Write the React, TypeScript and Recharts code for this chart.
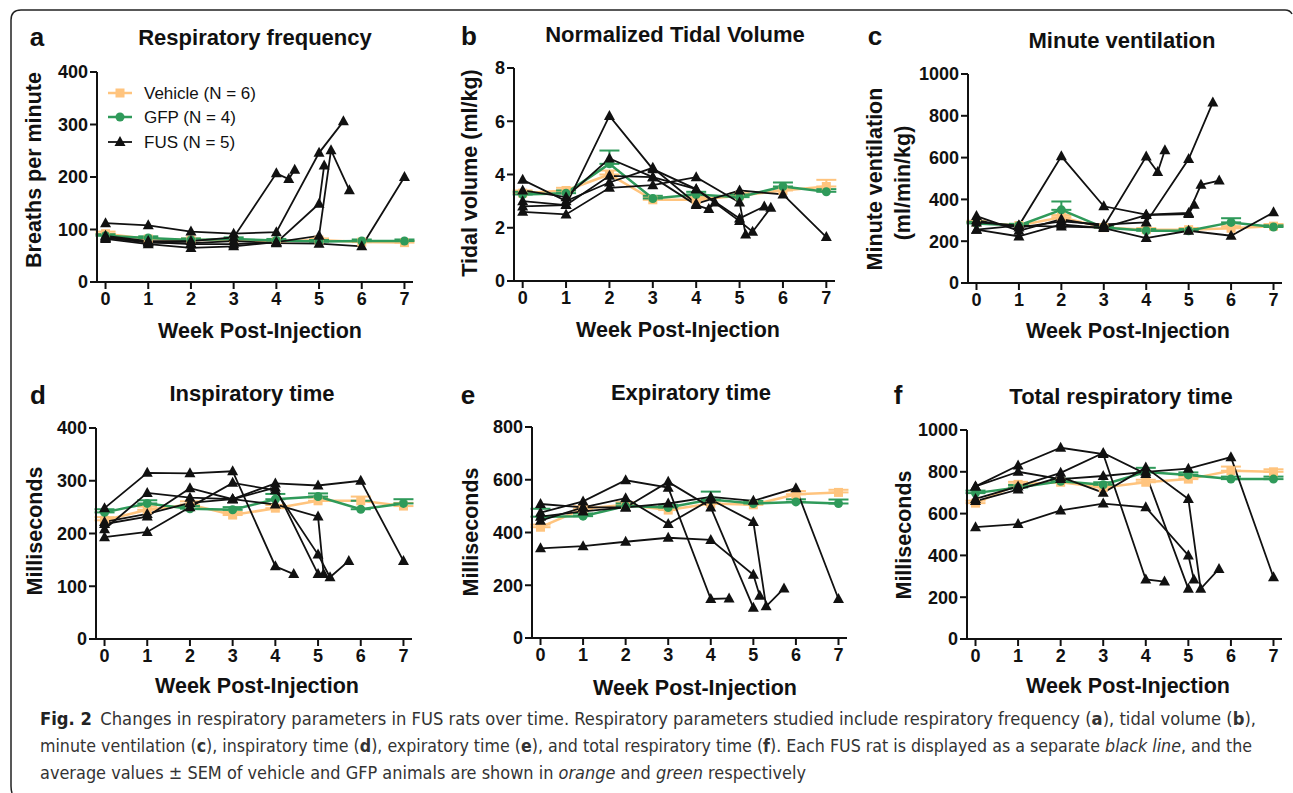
import React from "react";
import { LineChart, Line, XAxis, YAxis, ErrorBar } from "recharts";

const FONT = "'Liberation Sans', Arial, Helvetica, sans-serif";
const NARROW = "'Liberation Sans Narrow', 'Arial Narrow', 'DejaVu Sans Condensed', sans-serif";
const VEH = "#FFC47E";
const GFP = "#2F9A5A";
const FUS = "#111111";

type Pt = [number, number];

const weeks = [0, 1, 2, 3, 4, 5, 6, 7];

// a - respiratory frequency (breaths/min)
const freqTicks = [0, 100, 200, 300, 400];
const freqVehicle = [92, 82, 80, 80, 77, 80, 76, 75];
const freqVehicleSem = [4, 3, 3, 3, 3, 3, 3, 3];
const freqGfp = [88, 84, 80, 82, 79, 77, 78, 78];
const freqGfpSem = [3, 3, 3, 3, 3, 3, 3, 3];
const freqFus: Pt[][] = [
  [[0, 112], [1, 108], [2, 96], [3, 92], [4, 95], [5, 246], [5.57, 306]],
  [[0, 88], [1, 78], [2, 78], [3, 85], [4, 207], [4.29, 196], [4.43, 214]],
  [[0, 86], [1, 76], [2, 72], [3, 72], [4, 75], [5, 149], [5.12, 222]],
  [[0, 82], [1, 72], [2, 65], [3, 68], [4, 76], [5, 88], [5.28, 251], [5.71, 175]],
  [[0, 84], [1, 75], [2, 74], [3, 78], [4, 74], [5, 73], [6, 68], [7, 200]],
];

// b - normalized tidal volume (ml/kg)
const tidalTicks = [0, 2, 4, 6, 8];
const tidalVehicle = [3.3, 3.4, 4.0, 3.05, 3.05, 3.2, 3.4, 3.55];
const tidalVehicleSem = [0.1, 0.1, 0.15, 0.1, 0.1, 0.1, 0.1, 0.25];
const tidalGfp = [3.25, 3.3, 4.4, 3.1, 3.25, 3.15, 3.55, 3.35];
const tidalGfpSem = [0.1, 0.1, 0.5, 0.1, 0.1, 0.1, 0.15, 0.1];
const tidalFus: Pt[][] = [
  [[0, 3.0], [1, 2.85], [2, 6.2], [3, 4.2], [4, 3.45], [5, 2.35], [5.57, 2.8]],
  [[0, 3.4], [1, 3.15], [2, 4.6], [3, 3.9], [4, 2.85], [4.29, 2.7], [4.43, 2.95]],
  [[0, 2.6], [1, 2.5], [2, 3.5], [3, 3.6], [4, 3.9], [5, 2.95], [5.14, 1.75]],
  [[0, 2.8], [1, 2.85], [2, 3.95], [3, 3.9], [4, 3.45], [5, 2.25], [5.3, 1.85], [5.72, 2.75]],
  [[0, 3.8], [1, 3.0], [2, 3.7], [3, 4.25], [4, 2.9], [5, 3.4], [6, 3.25], [7, 1.65]],
];

// c - minute ventilation (ml/min/kg)
const minuteTicks = [0, 200, 400, 600, 800, 1000];
const minuteVehicle = [290, 275, 315, 265, 255, 255, 262, 272];
const minuteVehicleSem = [8, 8, 10, 8, 8, 8, 10, 10];
const minuteGfp = [285, 275, 350, 265, 250, 250, 290, 268];
const minuteGfpSem = [8, 8, 40, 8, 8, 8, 20, 8];
const minuteFus: Pt[][] = [
  [[0, 300], [1, 265], [2, 295], [3, 280], [4, 290], [5, 593], [5.57, 864]],
  [[0, 320], [1, 250], [2, 305], [3, 270], [4, 605], [4.27, 531], [4.44, 635]],
  [[0, 290], [1, 275], [2, 270], [3, 265], [4, 325], [5, 330], [5.13, 375]],
  [[0, 255], [1, 275], [2, 606], [3, 367], [4, 327], [5, 335], [5.29, 470], [5.72, 490]],
  [[0, 255], [1, 223], [2, 280], [3, 263], [4, 215], [5, 250], [6, 226], [7, 338]],
];

// d - inspiratory time (ms)
const inspTicks = [0, 100, 200, 300, 400];
const inspVehicle = [225, 245, 255, 235, 248, 262, 262, 252];
const inspVehicleSem = [6, 6, 6, 6, 6, 6, 8, 6];
const inspGfp = [240, 257, 247, 245, 265, 270, 246, 257];
const inspGfpSem = [6, 6, 5, 5, 10, 6, 16, 8];
const inspFus: Pt[][] = [
  [[0, 218], [1, 232], [2, 286], [3, 265], [4, 287], [5, 123]],
  [[0, 248], [1, 315], [2, 314], [3, 318], [4, 138], [4.43, 123]],
  [[0, 208], [1, 277], [2, 268], [3, 265], [4, 255], [5, 232], [5.13, 123]],
  [[0, 193], [1, 203], [2, 250], [3, 296], [4, 282], [5, 160], [5.28, 117], [5.72, 148]],
  [[0, 222], [1, 237], [2, 258], [3, 265], [4, 295], [5, 291], [6, 300], [7, 148]],
];

// e - expiratory time (ms)
const expTicks = [0, 200, 400, 600, 800];
const expVehicle = [420, 490, 505, 485, 510, 505, 545, 552];
const expVehicleSem = [10, 10, 10, 10, 10, 10, 12, 10];
const expGfp = [460, 462, 500, 495, 525, 510, 516, 510];
const expGfpSem = [30, 10, 10, 10, 30, 10, 10, 15];
const expFus: Pt[][] = [
  [[0, 460], [1, 480], [2, 495], [3, 592], [4, 495], [5, 115]],
  [[0, 475], [1, 518], [2, 598], [3, 570], [4, 148], [4.43, 150]],
  [[0, 340], [1, 348], [2, 365], [3, 380], [4, 372], [5, 240], [5.15, 160]],
  [[0, 445], [1, 495], [2, 530], [3, 432], [4, 525], [5, 440], [5.3, 120], [5.72, 188]],
  [[0, 508], [1, 495], [2, 495], [3, 510], [4, 535], [5, 520], [6, 568], [7, 148]],
];

// f - total respiratory time (ms)
const totalTicks = [0, 200, 400, 600, 800, 1000];
const totalVehicle = [650, 740, 750, 725, 750, 765, 805, 800];
const totalVehicleSem = [12, 12, 12, 12, 12, 12, 20, 12];
const totalGfp = [698, 725, 755, 738, 799, 785, 765, 765];
const totalGfpSem = [12, 12, 12, 12, 20, 12, 12, 12];
const totalFus: Pt[][] = [
  [[0, 670], [1, 730], [2, 795], [3, 890], [4, 790], [5, 240]],
  [[0, 730], [1, 830], [2, 915], [3, 885], [4, 285], [4.44, 275]],
  [[0, 535], [1, 550], [2, 615], [3, 648], [4, 630], [5, 400], [5.13, 285]],
  [[0, 660], [1, 715], [2, 775], [3, 700], [4, 820], [5, 670], [5.29, 240], [5.72, 335]],
  [[0, 730], [1, 800], [2, 765], [3, 780], [4, 800], [5, 815], [6, 870], [7, 295]],
];

const Tri = (p: any) => {
  const { cx, cy, index } = p;
  if (cx == null || cy == null) return <g key={"t" + index} />;
  return <path key={"t" + index} d={`M${cx},${cy - 6} L${cx + 5.5},${cy + 4} L${cx - 5.5},${cy + 4} Z`} fill={FUS} />;
};

const Sq = (p: any) => {
  const { cx, cy, index } = p;
  if (cx == null || cy == null) return <g key={"s" + index} />;
  return <rect key={"s" + index} x={cx - 4.5} y={cy - 4.5} width={9} height={9} fill={VEH} />;
};

const Dot = (p: any) => {
  const { cx, cy, index } = p;
  if (cx == null || cy == null) return <g key={"c" + index} />;
  return <circle key={"c" + index} cx={cx} cy={cy} r={4.5} fill={GFP} />;
};

const Y_W = 60;
const M_TOP = 10;
const M_RIGHT = 12;
const X_H = 40;

type PanelProps = {
  box: [number, number, number, number];
  yTicks: number[];
  vehicle: number[];
  vehicleSem: number[];
  gfp: number[];
  gfpSem: number[];
  fus: Pt[][];
};

const tickStyle = { fontSize: 18, fontWeight: 700, fill: "#111", fontFamily: FONT };
const axisStyle = { stroke: "#111", strokeWidth: 2 };

function Panel({ box, yTicks, vehicle, vehicleSem, gfp, gfpSem, fus }: PanelProps) {
  const [l, t, r, b] = box;
  const width = r - l + Y_W + M_RIGHT;
  const height = b - t + M_TOP + X_H;
  const veh = weeks.map((w, i) => ({ week: w, value: vehicle[i], sem: [0, vehicleSem[i]] }));
  const gfpData = weeks.map((w, i) => ({ week: w, value: gfp[i], sem: [0, gfpSem[i]] }));
  const yMax = yTicks[yTicks.length - 1];
  return (
    <div style={{ position: "absolute", left: l - Y_W, top: t - M_TOP }}>
      <LineChart width={width} height={height} margin={{ top: M_TOP, right: M_RIGHT, left: 0, bottom: 0 }}>
        <XAxis
          type="number"
          dataKey="week"
          domain={[-0.2, 7.2]}
          ticks={weeks}
          allowDataOverflow
          height={X_H}
          tickSize={7}
          tickMargin={3}
          axisLine={axisStyle}
          tickLine={axisStyle}
          tick={tickStyle}
        />
        <YAxis
          type="number"
          domain={[0, yMax]}
          ticks={yTicks}
          interval={0}
          width={Y_W}
          tickSize={7}
          tickMargin={2}
          axisLine={axisStyle}
          tickLine={axisStyle}
          tick={tickStyle}
        />
        <Line data={veh} dataKey="value" stroke={VEH} strokeWidth={2.5} dot={Sq} isAnimationActive={false}>
          <ErrorBar dataKey="sem" direction="y" width={10} stroke={VEH} strokeWidth={2} />
        </Line>
        <Line data={gfpData} dataKey="value" stroke={GFP} strokeWidth={2.5} dot={Dot} isAnimationActive={false}>
          <ErrorBar dataKey="sem" direction="y" width={10} stroke={GFP} strokeWidth={2} />
        </Line>
        {fus.map((rat, k) => (
          <Line
            key={k}
            data={rat.map(([w, v]) => ({ week: w, value: v }))}
            dataKey="value"
            stroke={FUS}
            strokeWidth={1.8}
            dot={Tri}
            isAnimationActive={false}
          />
        ))}
      </LineChart>
    </div>
  );
}

const titles = [
  { text: "Respiratory frequency", x: 255, y: 45 },
  { text: "Normalized Tidal Volume", x: 675, y: 42 },
  { text: "Minute ventilation", x: 1122, y: 48 },
  { text: "Inspiratory time", x: 252, y: 401 },
  { text: "Expiratory time", x: 691, y: 400 },
  { text: "Total respiratory time", x: 1121, y: 404 },
];
const letters = [
  { text: "a", x: 37, y: 46 },
  { text: "b", x: 469, y: 45 },
  { text: "c", x: 875, y: 45 },
  { text: "d", x: 38, y: 404 },
  { text: "e", x: 468, y: 404 },
  { text: "f", x: 898, y: 404 },
];
const xLabels = [
  { x: 260, y: 338 },
  { x: 678, y: 337 },
  { x: 1128, y: 338 },
  { x: 257, y: 693 },
  { x: 695, y: 695 },
  { x: 1128, y: 693 },
];
const yLabels = [
  { text: "Breaths per minute", x: 41, y: 170 },
  { text: "Tidal volume (ml/kg)", x: 477, y: 173 },
  { text: "Minute ventilation", x: 882, y: 179 },
  { text: "(ml/min/kg)", x: 910, y: 183 },
  { text: "Milliseconds", x: 42, y: 531 },
  { text: "Milliseconds", x: 478, y: 532 },
  { text: "Milliseconds", x: 911, y: 535 },
];
const legendItems = [
  { label: "Vehicle (N = 6)", color: VEH, y: 93 },
  { label: "GFP (N = 4)", color: GFP, y: 117 },
  { label: "FUS (N = 5)", color: FUS, y: 142 },
];

export default function App() {
  return (
    <div style={{ position: "relative", width: 1293, height: 793, background: "#fff", overflow: "hidden" }}>
      <style>{"body{margin:0}"}</style>
      <svg width={1293} height={793} style={{ position: "absolute", left: 0, top: 0 }}>
        <path d="M12,793 Q11,790 11,786 L11,20 Q11,10 21,10 L1285,10 Q1290,10 1292,14" fill="none" stroke="#222" strokeWidth={1.5} />
        {titles.map((d) => (
          <text key={d.text} x={d.x} y={d.y} textAnchor="middle" fontFamily={FONT} fontWeight={700} fontSize={22} fill="#111">
            {d.text}
          </text>
        ))}
        {letters.map((d) => (
          <text key={d.text} x={d.x} y={d.y} textAnchor="middle" fontFamily={FONT} fontWeight={700} fontSize={26} fill="#111">
            {d.text}
          </text>
        ))}
        {xLabels.map((d, i) => (
          <text key={i} x={d.x} y={d.y} textAnchor="middle" fontFamily={FONT} fontWeight={700} fontSize={21.5} fill="#111">
            Week Post-Injection
          </text>
        ))}
        {yLabels.map((d, i) => (
          <text
            key={i}
            x={0}
            y={0}
            transform={`translate(${d.x},${d.y}) rotate(-90)`}
            textAnchor="middle"
            fontFamily={FONT}
            fontWeight={700}
            fontSize={21.5}
            fill="#111"
          >
            {d.text}
          </text>
        ))}
        {legendItems.map((d, i) => (
          <g key={d.label}>
            <line x1={108} x2={132} y1={d.y} y2={d.y} stroke={d.color} strokeWidth={i === 2 ? 1.8 : 2.5} />
            {i === 0 && <rect x={115.5} y={d.y - 4.5} width={9} height={9} fill={VEH} />}
            {i === 1 && <circle cx={120} cy={d.y} r={4.5} fill={GFP} />}
            {i === 2 && <path d={`M120,${d.y - 6} L125.5,${d.y + 4} L114.5,${d.y + 4} Z`} fill={FUS} />}
            <text x={144} y={d.y + 6} fontFamily={FONT} fontSize={17} fill="#111">
              {d.label}
            </text>
          </g>
        ))}
        <g fontFamily={NARROW} fontSize={17} fill="#333">
          <text x={40} y={725} textLength={1216} lengthAdjust="spacingAndGlyphs">
            <tspan fontWeight={700} fill="#222">Fig. 2</tspan>
            <tspan dx={8}>Changes in respiratory parameters in FUS rats over time. Respiratory parameters studied include respiratory frequency (</tspan>
            <tspan fontWeight={700}>a</tspan>
            <tspan>), tidal volume (</tspan>
            <tspan fontWeight={700}>b</tspan>
            <tspan>),</tspan>
          </text>
          <text x={40} y={752} textLength={1212} lengthAdjust="spacingAndGlyphs">
            <tspan>minute ventilation (</tspan>
            <tspan fontWeight={700}>c</tspan>
            <tspan>), inspiratory time (</tspan>
            <tspan fontWeight={700}>d</tspan>
            <tspan>), expiratory time (</tspan>
            <tspan fontWeight={700}>e</tspan>
            <tspan>), and total respiratory time (</tspan>
            <tspan fontWeight={700}>f</tspan>
            <tspan>). Each FUS rat is displayed as a separate </tspan>
            <tspan fontStyle="italic">black line</tspan>
            <tspan>, and the</tspan>
          </text>
          <text x={40} y={779} textLength={766} lengthAdjust="spacingAndGlyphs">
            <tspan>average values ± SEM of vehicle and GFP animals are shown in </tspan>
            <tspan fontStyle="italic">orange</tspan>
            <tspan> and </tspan>
            <tspan fontStyle="italic">green</tspan>
            <tspan> respectively</tspan>
          </text>
        </g>
      </svg>
      <Panel box={[97, 72, 413, 282]} yTicks={freqTicks} vehicle={freqVehicle} vehicleSem={freqVehicleSem} gfp={freqGfp} gfpSem={freqGfpSem} fus={freqFus} />
      <Panel box={[514, 68, 835, 281]} yTicks={tidalTicks} vehicle={tidalVehicle} vehicleSem={tidalVehicleSem} gfp={tidalGfp} gfpSem={tidalGfpSem} fus={tidalFus} />
      <Panel box={[968, 74, 1282, 283]} yTicks={minuteTicks} vehicle={minuteVehicle} vehicleSem={minuteVehicleSem} gfp={minuteGfp} gfpSem={minuteGfpSem} fus={minuteFus} />
      <Panel box={[96, 428, 412, 639]} yTicks={inspTicks} vehicle={inspVehicle} vehicleSem={inspVehicleSem} gfp={inspGfp} gfpSem={inspGfpSem} fus={inspFus} />
      <Panel box={[532, 427, 847, 638]} yTicks={expTicks} vehicle={expVehicle} vehicleSem={expVehicleSem} gfp={expGfp} gfpSem={expGfpSem} fus={expFus} />
      <Panel box={[967, 430, 1282, 639]} yTicks={totalTicks} vehicle={totalVehicle} vehicleSem={totalVehicleSem} gfp={totalGfp} gfpSem={totalGfpSem} fus={totalFus} />
    </div>
  );
}
